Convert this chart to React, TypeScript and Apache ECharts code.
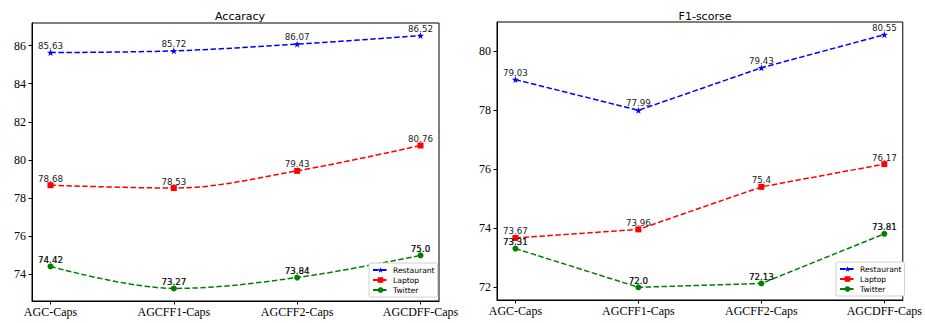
import React, { useEffect, useRef } from "react";
import * as echarts from "echarts";

const categories = ["AGC-Caps", "AGCFF1-Caps", "AGCFF2-Caps", "AGCDFF-Caps"];
const seriesNames = ["Restaurant", "Laptop", "Twitter"];

const accRestaurant = [85.63, 85.72, 86.07, 86.52];
const accLaptop = [78.68, 78.53, 79.43, 80.76];
const accTwitter = [74.42, 73.27, 73.84, 75.0];

const f1Restaurant = [79.03, 77.99, 79.43, 80.55];
const f1Laptop = [73.67, 73.96, 75.4, 76.17];
const f1Twitter = [73.31, 72.0, 72.13, 73.81];

const accTicks = [74, 76, 78, 80, 82, 84, 86];
const f1Ticks = [72, 74, 76, 78, 80];

const STAR =
  "path://M0,-10L2.35,-3.24L9.51,-3.09L3.8,1.24L5.88,8.09L0,4L-5.88,8.09L-3.8,1.24L-9.51,-3.09L-2.35,-3.24Z";

const SERIF = "'Liberation Serif', 'Times New Roman', serif";
const SANS = "'DejaVu Sans', sans-serif";

const fmt = (v: number) => (Number.isInteger(v) ? v.toFixed(1) : String(v));

export default function App() {
  const ref = useRef<HTMLDivElement>(null);
  useEffect(() => {
    if (!ref.current) return;
    const chart = echarts.init(ref.current, null, { renderer: "svg" });

    const grids = [
      { left: 32, top: 23, width: 407, height: 278 },
      { left: 497, top: 22, width: 407, height: 278 },
    ];
    const yRanges = [
      { min: 72.61, max: 87.18, ticks: accTicks },
      { min: 71.57, max: 80.98, ticks: f1Ticks },
    ];

    const xAxes = grids.map((_, i) => ({
      type: "value",
      gridIndex: i,
      min: -0.15,
      max: 3.15,
      splitLine: { show: false },
      axisLine: { show: true, onZero: false, lineStyle: { color: "#000", width: 1 } },
      axisTick: {
        show: true,
        inside: false,
        length: 3.5,
        customValues: [0, 1, 2, 3],
        lineStyle: { color: "#000" },
      },
      axisLabel: {
        customValues: [0, 1, 2, 3],
        formatter: (v: number) => categories[Math.round(v)],
        fontFamily: SERIF,
        fontSize: 12,
        color: "#000",
        margin: 5,
      },
    }));

    const yAxes = yRanges.map((r, i) => ({
      type: "value",
      gridIndex: i,
      min: r.min,
      max: r.max,
      splitLine: { show: false },
      axisLine: { show: true, onZero: false, lineStyle: { color: "#000", width: 1 } },
      axisTick: {
        show: true,
        inside: false,
        length: 3.5,
        customValues: r.ticks,
        lineStyle: { color: "#000" },
      },
      axisLabel: {
        customValues: r.ticks,
        fontFamily: SERIF,
        fontSize: 12,
        color: "#000",
        margin: 6,
      },
    }));

    const styles = [
      { color: "#0000ff", symbol: STAR, size: 7 },
      { color: "#ff0000", symbol: "rect", size: 6 },
      { color: "#008000", symbol: "circle", size: 6 },
    ];

    const datasets = [
      [accRestaurant, accLaptop, accTwitter],
      [f1Restaurant, f1Laptop, f1Twitter],
    ];

    const series: any[] = [];
    datasets.forEach((group, gi) => {
      group.forEach((vals, si) => {
        const st = styles[si];
        const twitter = si === 2;
        series.push({
          type: "line",
          name: seriesNames[si],
          xAxisIndex: gi,
          yAxisIndex: gi,
          smooth: gi === 0 ? 0.35 : false,
          data: vals.map((v, k) => [k, v]),
          symbol: st.symbol,
          symbolSize: st.size,
          showAllSymbol: true,
          itemStyle: { color: st.color },
          lineStyle: { color: st.color, width: 1.5, type: [5.5, 2.5] },
          label: {
            show: true,
            position: "top",
            distance: -1,
            fontFamily: SANS,
            fontSize: 8.7,
            color: twitter ? "#000" : "#222",
            textBorderColor: twitter ? "#000" : "transparent",
            textBorderWidth: twitter ? 0.2 : 0,
            formatter: (p: any) => fmt(p.value[1]),
          },
          emphasis: { disabled: true },
        });
      });
    });

    const legendBase = {
      orient: "vertical",
      padding: [3, 3, 3, 3],
      itemGap: 2,
      itemWidth: 15,
      itemHeight: 7,
      borderColor: "#d0d0d0",
      borderWidth: 1,
      borderRadius: 2,
      backgroundColor: "#fff",
      selectedMode: false,
      data: seriesNames,
      textStyle: { fontFamily: SANS, fontSize: 7.6, color: "#000" },
    };

    chart.setOption({
      animation: false,
      backgroundColor: "#fff",
      title: [
        {
          text: "Accaracy",
          left: 235,
          top: 6,
          textAlign: "center",
          textStyle: { fontFamily: SANS, fontSize: 11, fontWeight: "normal", color: "#000" },
        },
        {
          text: "F1-scorse",
          left: 700,
          top: 6,
          textAlign: "center",
          textStyle: { fontFamily: SANS, fontSize: 11, fontWeight: "normal", color: "#000" },
        },
      ],
      legend: [
        { ...legendBase, left: 369, top: 263 },
        { ...legendBase, left: 836, top: 262 },
      ],
      grid: grids.map((g) => ({
        ...g,
        show: true,
        borderColor: "#000",
        borderWidth: 1,
        backgroundColor: "transparent",
      })),
      xAxis: xAxes,
      yAxis: yAxes,
      series,
    } as any);

    return () => chart.dispose();
  }, []);

  return (
    <div
      ref={ref}
      style={{ position: "fixed", left: 0, top: 0, width: 925, height: 323 }}
    />
  );
}
